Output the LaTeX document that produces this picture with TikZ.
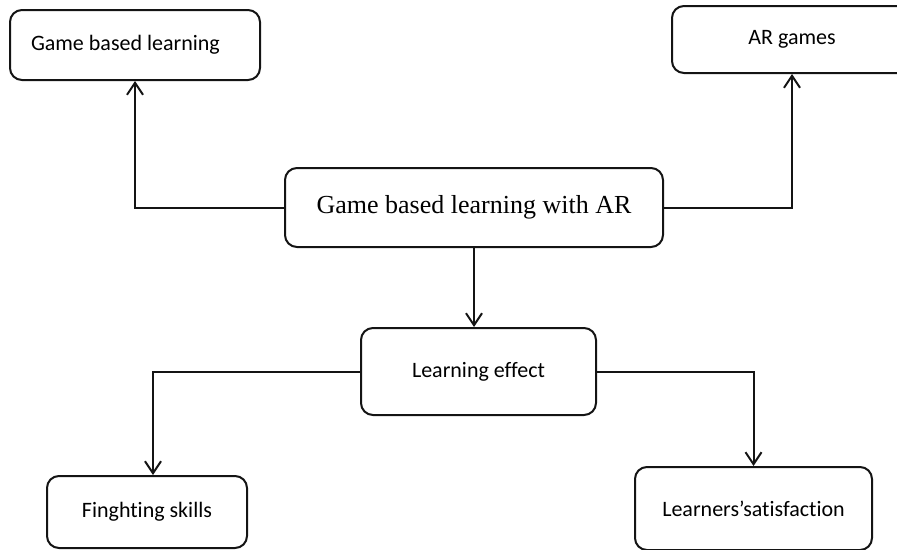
\documentclass[tikz,border=0pt]{standalone}
\usepackage{fontspec}
\setmainfont{Carlito}[Ligatures=NoCommon]
\newfontfamily\serifrm{Liberation Serif}
\usetikzlibrary{arrows.meta,positioning}
\definecolor{lineblack}{RGB}{20,20,20}

\begin{document}
\begin{tikzpicture}[
  x=1pt, y=-1pt,
  box/.style={rectangle, rounded corners=12pt, draw=lineblack, align=center, font=\fontsize{22}{26}\selectfont, line width=2pt, inner sep=0pt},
  arr/.style={-{Straight Barb[length=12pt,width=16pt]}, line width=2pt, draw=lineblack}
]
\useasboundingbox (0,0) rectangle (897,549);
\node[box, minimum width=378pt, minimum height=79pt, font=\serifrm\fontsize{26}{30}\selectfont] (gbar) at (474,207.5) {Game based learning with AR};
\node[box, text width=208pt, inner xsep=21pt, align=flush left, minimum height=70pt] (gbl) at (135,45) {Game based learning};
\node[box, minimum width=240pt, minimum height=67pt] (argames) at (792,39.5) {AR games};
\node[box, minimum width=235pt, minimum height=87pt] (effect) at (478.5,371.5) {Learning effect};
\node[box, minimum width=200pt, minimum height=72pt] (fight) at (147,512) {Finghting skills};
\node[box, minimum width=237pt, minimum height=83pt] (satisf) at (753.5,508.5) {Learners’satisfaction};

\draw[arr] (gbar.west) -| (gbl.south);
\draw[arr] (gbar.east) -| (argames.south);
\draw[arr] (gbar.south) -- (gbar.south |- effect.north);
\draw[arr] (effect.west) -| ([xshift=6pt]fight.north);
\draw[arr] (effect.east) -| (satisf.north);
\end{tikzpicture}
\end{document}
